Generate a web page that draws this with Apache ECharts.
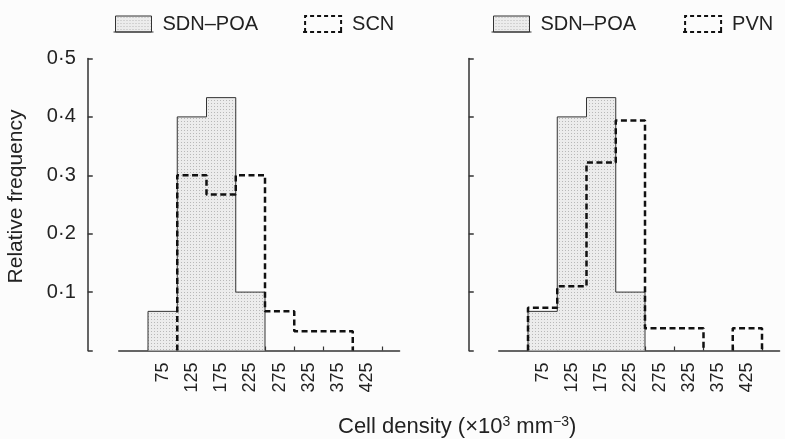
<!DOCTYPE html>
<html>
<head>
<meta charset="utf-8">
<script src="https://cdn.jsdelivr.net/npm/echarts@6/dist/echarts.min.js"></script>
<style>
html,body{margin:0;padding:0;background:#fcfcfc;}
#chart{width:785px;height:439px;}
</style>
</head>
<body>
<div id="chart"></div>
<script>
// ---- data ----
const binEdges = [50, 100, 150, 200, 250, 300, 350, 400, 450];
const tickLabels = [75, 125, 175, 225, 275, 325, 375, 425];
const sdnPoa = [0.067, 0.4, 0.433, 0.1, 0, 0, 0, 0];
const scn = [0, 0.3, 0.267, 0.3, 0.067, 0.033, 0.033, 0];
const pvn = [0.073, 0.11, 0.322, 0.394, 0.038, 0.038, 0, 0.038];

// histogram outline built from bins
function steps(values) {
  const pts = [];
  let drawing = false;
  for (let i = 0; i < values.length; i++) {
    const v = values[i];
    if (v > 0) {
      if (!drawing) { pts.push([binEdges[i], 0]); drawing = true; }
      pts.push([binEdges[i], v]);
      pts.push([binEdges[i + 1], v]);
    } else if (drawing) {
      pts.push([binEdges[i], 0]);
      pts.push('-');
      drawing = false;
    }
  }
  if (drawing) pts.push([binEdges[values.length], 0]);
  return pts;
}

// stipple pattern
const pc = document.createElement('canvas');
pc.width = 3; pc.height = 3;
const pctx = pc.getContext('2d');
pctx.fillStyle = '#ececec'; pctx.fillRect(0, 0, 3, 3);
pctx.fillStyle = '#b8b8b8'; pctx.fillRect(1, 1, 1, 1);
const stipple = { image: pc, repeat: 'repeat' };

const FONT = 'Liberation Sans, Arial, sans-serif';
const TXT = '#222';

function xAxisDef(idx) {
  return {
    type: 'value', gridIndex: idx, min: 0, max: 480, position: 'bottom',
    axisLine: { show: true, onZero: false, lineStyle: { color: '#333', width: 1.5 } },
    axisTick: { show: true, inside: true, length: 4, customValues: binEdges, lineStyle: { color: '#333', width: 1.2 } },
    axisLabel: { show: true, customValues: tickLabels, rotate: 90, margin: 12, fontSize: 18, color: TXT, fontFamily: FONT },
    splitLine: { show: false }
  };
}
function yAxisDef(idx, offset, showLabels) {
  const def = {
    type: 'value', gridIndex: idx, min: 0, max: 0.5, interval: 0.1, offset: offset,
    axisLine: { show: true, onZero: false, lineStyle: { color: '#333', width: 1.5 } },
    axisTick: { show: true, inside: true, length: 5, lineStyle: { color: '#333', width: 1.5 } },
    axisLabel: {
      show: showLabels, margin: 12, fontSize: 20, color: TXT, fontFamily: FONT,
      formatter: v => (v === 0 ? '' : v.toFixed(1).replace('.', '\u00B7'))
    },
    splitLine: { show: false }
  };
  if (showLabels) {
    def.name = 'Relative frequency';
    def.nameLocation = 'middle';
    def.nameGap = 61;
    def.nameTextStyle = { fontSize: 21, color: TXT, fontFamily: FONT, padding: [0, 0, 0, 16] };
  }
  return def;
}

function histSolid(name, idx) {
  return {
    name: name, type: 'line', xAxisIndex: idx, yAxisIndex: idx,
    data: steps(sdnPoa), symbol: 'none', z: 2, silent: true,
    lineStyle: { color: '#333', width: 1 },
    itemStyle: { color: '#333' },
    areaStyle: { color: stipple, opacity: 1 }
  };
}
function histDashed(name, idx, vals) {
  return {
    name: name, type: 'line', xAxisIndex: idx, yAxisIndex: idx,
    data: steps(vals), symbol: 'none', z: 3, silent: true, connectNulls: false,
    lineStyle: { color: '#111', width: 2.5, type: [6, 3.5] },
    itemStyle: { color: '#111' }
  };
}

const solidIcon = 'path://M2,0 L38,0 L38,16 L2,16 Z M0,16 L40,16';
const dashIcon = 'path://M2,16 L2,0 L38,0 L38,16 M0,16 L40,16';
function legendDef(left, names, gap) {
  return {
    left: left, top: 14, padding: 0, itemWidth: 40, itemHeight: 16, itemGap: gap, selectedMode: false,
    symbolKeepAspect: false,
    textStyle: { fontSize: 20, color: TXT, fontFamily: FONT, padding: [0, 0, 0, 4] },
    data: [
      { name: names[0], icon: solidIcon, itemStyle: { color: stipple, borderColor: '#333', borderWidth: 1 } },
      { name: names[1], icon: dashIcon, itemStyle: { color: 'rgba(0,0,0,0)', borderColor: '#111', borderWidth: 2, borderType: [4, 3] } }
    ]
  };
}

const chart = echarts.init(document.getElementById('chart'), null, { renderer: 'canvas' });
chart.setOption({
  backgroundColor: '#fcfcfc',
  animation: false,
  textStyle: { fontFamily: FONT },
  title: {
    text: 'Cell density (\u00D710{s|3} mm{s|\u22123})',
    left: 338, top: 415, padding: 0,
    textStyle: {
      fontSize: 22, fontWeight: 'normal', color: TXT, fontFamily: FONT, lineHeight: 24,
      rich: { s: { fontSize: 14, verticalAlign: 'top', lineHeight: 16, color: TXT, fontFamily: FONT } }
    }
  },
  legend: [
    legendDef(113, ['SDN\u2013POA', 'SCN'], 44),
    legendDef(491, ['SDN\u2013POA', 'PVN'], 46)
  ],
  grid: [
    { left: 118.75, width: 280.8, top: 58.5, height: 292, containLabel: false },
    { left: 498.75, width: 280.8, top: 58.5, height: 292, containLabel: false }
  ],
  xAxis: [xAxisDef(0), xAxisDef(1)],
  yAxis: [yAxisDef(0, 31, true), yAxisDef(1, 30, false)],
  series: [
    histSolid('SDN\u2013POA', 0),
    histDashed('SCN', 0, scn),
    histSolid('SDN\u2013POA', 1),
    histDashed('PVN', 1, pvn)
  ]
});
</script>
</body>
</html>
